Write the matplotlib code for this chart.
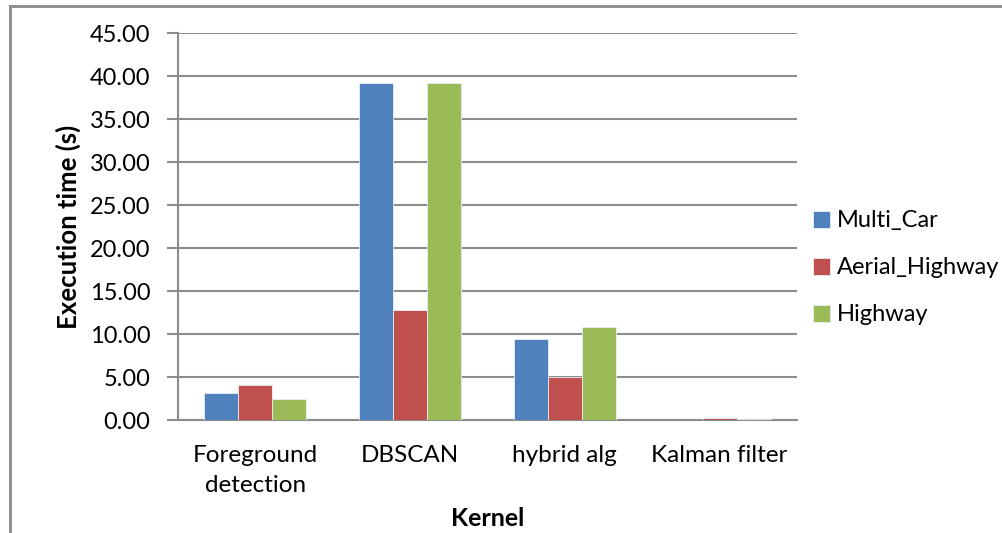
import matplotlib
matplotlib.use("Agg")
import matplotlib.pyplot as plt
from matplotlib.lines import Line2D
import numpy as np

plt.rcParams["font.family"] = ["Lato", "DejaVu Sans"]

kernels = ["Foreground\ndetection", "DBSCAN", "hybrid alg", "Kalman filter"]
series = ["Multi_Car", "Aerial_Highway", "Highway"]
multi_car = [3.14, 39.24, 9.42, 0.02]
aerial_highway = [4.10, 12.85, 5.00, 0.22]
highway = [2.50, 39.24, 10.87, 0.08]
yticks = [0, 5, 10, 15, 20, 25, 30, 35, 40, 45]

colors = ["#4F81BD", "#C0504D", "#9BBB59"]
grid_gray = "#8C8C8C"

fig = plt.figure(figsize=(10.03, 5.33), dpi=100)
ax = fig.add_axes([0.1775, 0.212, 0.617, 0.726])

x = np.arange(len(kernels))
w = 0.22
for i, (vals, c, name) in enumerate(zip([multi_car, aerial_highway, highway], colors, series)):
    ax.bar(x + (i - 1) * w, vals, width=w, color=c, edgecolor="#E8EEF6",
           linewidth=0.6, label=name, zorder=3)

ax.set_xlim(-0.5, len(kernels) - 0.5)
ax.set_ylim(0, 45)
ax.set_yticks(yticks)
ax.set_yticklabels([f"{v:.2f}" for v in yticks])
ax.set_xticks(x)
ax.set_xticklabels(kernels, linespacing=1.55)
ax.yaxis.grid(True, color=grid_gray, linewidth=1.5, zorder=0)

for s in ["top", "right"]:
    ax.spines[s].set_visible(False)
for s in ["left", "bottom"]:
    ax.spines[s].set_color(grid_gray)
    ax.spines[s].set_linewidth(1.5)

ax.tick_params(axis="y", length=8, width=1.5, color=grid_gray, pad=12, labelsize=17)
ax.tick_params(axis="x", length=0, pad=18, labelsize=17.5)

ax.set_ylabel("Execution time (s)", fontsize=18.5, fontweight="bold", labelpad=6)
ax.set_xlabel("Kernel", fontsize=18, fontweight="bold", labelpad=8)

leg = ax.legend(loc="center left", bbox_to_anchor=(1.01, 0.393), frameon=False,
                fontsize=17, handlelength=0.75, handleheight=0.75,
                handletextpad=0.3, labelspacing=1.1, borderaxespad=0)

# outer chart border (top and left edges)
fig.add_artist(Line2D([0.01, 1.0], [0.989, 0.989], color="#8A8A8A", linewidth=2))
fig.add_artist(Line2D([0.01, 0.01], [0.0, 0.989], color="#8A8A8A", linewidth=2))

fig.savefig("out.png", dpi=100)
